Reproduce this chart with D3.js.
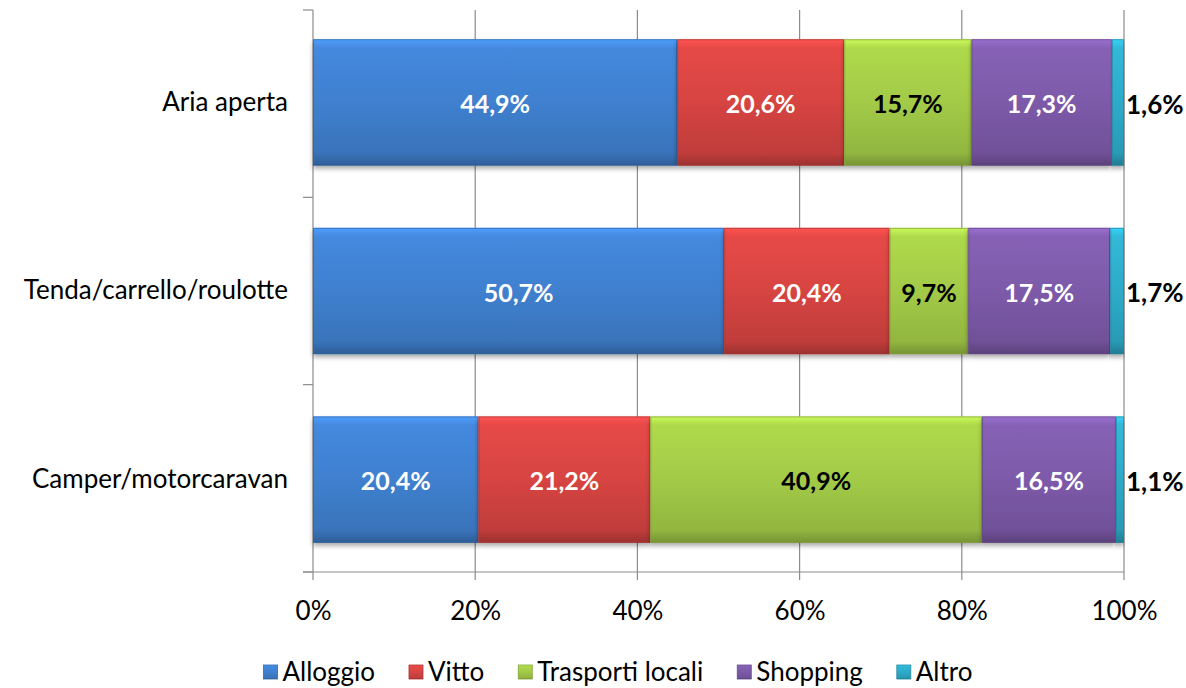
<!DOCTYPE html>
<html><head><meta charset="utf-8">
<script src="https://cdn.jsdelivr.net/npm/d3@7"></script>
<style>body{margin:0;background:#fff;} svg{display:block;font-family:Lato, "Open Sans", sans-serif;}</style>
</head><body>
<svg id="c" width="1186" height="688"></svg>
<script>
const categories = ["Aria aperta", "Tenda/carrello/roulotte", "Camper/motorcaravan"];
const seriesNames = ["Alloggio", "Vitto", "Trasporti locali", "Shopping", "Altro"];
const alloggio = [44.9, 50.7, 20.4];
const vitto = [20.6, 20.4, 21.2];
const trasporti = [15.7, 9.7, 40.9];
const shopping = [17.3, 17.5, 16.5];
const altro = [1.6, 1.7, 1.1];
const tickValues = [0, 20, 40, 60, 80, 100];
const colors = ["#3f80cf", "#d64442", "#a3ca47", "#7d5aa9", "#2eabc9"];
const labelColors = ["#fff", "#fff", "#000", "#fff", "#000"];

const series = [alloggio, vitto, trasporti, shopping, altro];
const svg = d3.select("#c");
const x = d3.scaleLinear().domain([0, 100]).range([313, 1124]);
const y = d3.scaleBand().domain(categories).range([10, 572]).paddingInner(0.33).paddingOuter(0.155);

const defs = svg.append("defs");
colors.forEach((c, i) => {
  const g = defs.append("linearGradient").attr("id", "g" + i).attr("x1", 0).attr("y1", 0).attr("x2", 0).attr("y2", 1);
  const base = d3.color(c);
  g.append("stop").attr("offset", "0%").attr("stop-color", base.brighter(0.6));
  g.append("stop").attr("offset", "7%").attr("stop-color", base.brighter(0.2));
  g.append("stop").attr("offset", "50%").attr("stop-color", base);
  g.append("stop").attr("offset", "90%").attr("stop-color", base.darker(0.3));
  g.append("stop").attr("offset", "100%").attr("stop-color", base.darker(0.9));
});
const sh = defs.append("filter").attr("id", "sh").attr("x", "-5%").attr("y", "-10%").attr("width", "110%").attr("height", "130%");
sh.append("feGaussianBlur").attr("in", "SourceAlpha").attr("stdDeviation", 2.5);
sh.append("feOffset").attr("dx", 0).attr("dy", 3).attr("result", "b");
sh.append("feComponentTransfer").append("feFuncA").attr("type", "linear").attr("slope", 0.35);
const mg = sh.append("feMerge"); mg.append("feMergeNode"); mg.append("feMergeNode").attr("in", "SourceGraphic");

const axisColor = "#8c8c8c";
const grid = svg.append("g");
tickValues.forEach(v => {
  grid.append("line").attr("x1", x(v)).attr("x2", x(v)).attr("y1", 10).attr("y2", 580)
    .attr("stroke", axisColor).attr("stroke-width", 1.2);
});
grid.append("line").attr("x1", 303).attr("x2", 1124).attr("y1", 572).attr("y2", 572).attr("stroke", axisColor).attr("stroke-width", 1.2);
const bounds = [10].concat(categories.map((c, i) => 10 + (572 - 10) * (i + 1) / categories.length));
bounds.forEach(b => grid.append("line").attr("x1", 303).attr("x2", 313).attr("y1", b).attr("y2", b).attr("stroke", axisColor).attr("stroke-width", 1.2));

const xAxis = d3.axisBottom(x).tickValues(tickValues).tickFormat(d => d + "%").tickSize(0).tickPadding(0);
const xg = svg.append("g").attr("transform", "translate(0,611)").call(xAxis);
xg.select(".domain").remove();
xg.selectAll("text").attr("font-size", 26).attr("fill", "#000").attr("font-family", "Lato, sans-serif").attr("dy", "0.35em");

const yAxis = d3.axisLeft(y).tickSize(0).tickPadding(0);
const yg = svg.append("g").attr("transform", "translate(288,0)").call(yAxis);
yg.select(".domain").remove();
yg.selectAll("text").attr("font-size", 26).attr("fill", "#000").attr("font-family", "Lato, sans-serif");

const bars = svg.append("g");
categories.forEach((cat, ci) => {
  let acc = 0;
  series.forEach((s, si) => {
    const v = s[ci];
    const x0 = x(acc), x1 = x(Math.min(acc + v, 100));
    const g = bars.append("g");
    g.append("rect").attr("x", x0).attr("y", y(cat)).attr("width", Math.max(0, x1 - x0)).attr("height", y.bandwidth())
      .attr("fill", "url(#g" + si + ")").attr("filter", "url(#sh)");
    g.append("rect").attr("x", x0 + 0.5).attr("y", y(cat) + 0.5).attr("width", Math.max(0, x1 - x0 - 1)).attr("height", y.bandwidth() - 1)
      .attr("fill", "none").attr("stroke", d3.color(colors[si]).darker(0.7)).attr("stroke-opacity", 0.7).attr("stroke-width", 1);
    const inside = si < 4;
    bars.append("text")
      .attr("x", inside ? (x0 + x1) / 2 : x(100) + 2)
      .attr("y", y(cat) + y.bandwidth() / 2 + 2)
      .attr("dy", "0.35em")
      .attr("text-anchor", inside ? "middle" : "start")
      .attr("font-size", inside ? 25 : 26).attr("font-weight", "bold")
      .attr("fill", labelColors[si])
      .text(v.toFixed(1).replace(".", ",") + "%");
    acc += v;
  });
});

const leg = svg.append("g").attr("transform", "translate(0,672)");
const items = seriesNames.map((n, i) => {
  const t = leg.append("text").attr("font-size", 26).attr("dy", "0.35em").text(n);
  return { t, w: t.node().getComputedTextLength(), i };
});
const sq = 14, gap1 = 5, gap2 = 34;
const total = d3.sum(items, d => sq + gap1 + d.w) + gap2 * (items.length - 1);
let lx = 618 - total / 2;
items.forEach(d => {
  leg.append("rect").attr("x", lx).attr("y", -7).attr("width", sq).attr("height", sq).attr("fill", "url(#g" + d.i + ")")
    .attr("stroke", d3.color(colors[d.i]).darker(0.6)).attr("stroke-width", 0.8);
  d.t.attr("x", lx + sq + gap1);
  lx += sq + gap1 + d.w + gap2;
});
</script>
</body></html>
